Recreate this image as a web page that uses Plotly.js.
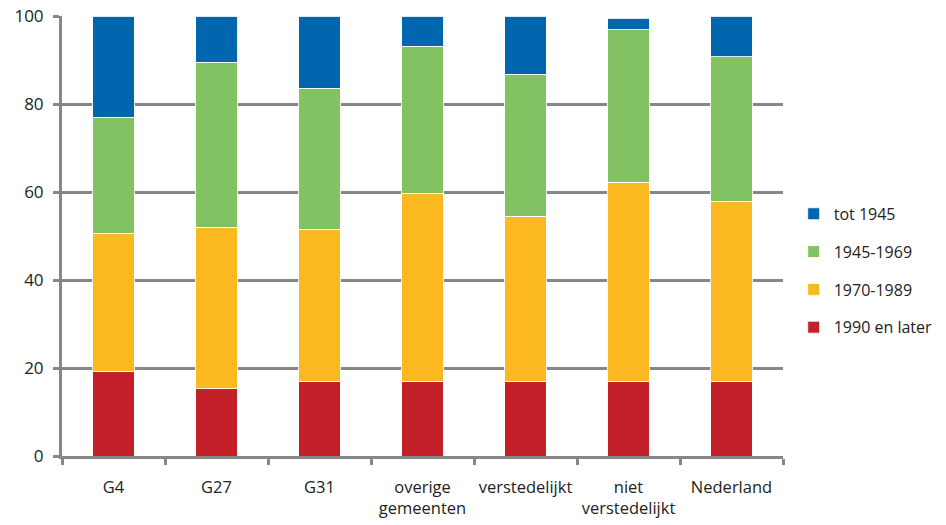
<!DOCTYPE html>
<html>
<head>
<meta charset="utf-8">
<script src="https://cdn.plot.ly/plotly-3.0.1.min.js"></script>
<style>html,body{margin:0;padding:0;background:#fff;}#chart{width:946px;height:525px;}</style>
</head>
<body>
<div id="chart"></div>
<script>
const categories = ["G4", "G27", "G31", "overige<br>gemeenten", "verstedelijkt", "niet<br>verstedelijkt", "Nederland"];
const seriesNames = ["1990 en later", "1970-1989", "1945-1969", "tot 1945"];
const red = [19.3, 15.3, 17.0, 17.0, 17.0, 17.0, 17.0];
const orange = [31.3, 36.7, 34.5, 42.7, 37.5, 45.2, 40.9];
const green = [26.4, 37.5, 32.1, 33.4, 32.3, 34.7, 32.8];
const blue = [23.0, 10.5, 16.4, 6.9, 13.2, 2.6, 9.3];
const colors = ["#C4202A", "#FBB821", "#82C262", "#0066AE"];
const values = [red, orange, green, blue];
const yTicks = [0, 20, 40, 60, 80, 100];

const traces = values.map((v, i) => ({
  type: "bar",
  name: seriesNames[i],
  x: categories,
  y: v,
  width: 0.4,
  legendgroup: "g" + i,
  legendrank: 10 - i,
  marker: {color: colors[i], line: {color: "rgba(255,255,255,0.85)", width: 1}},
  hoverinfo: "none"
}));

const layout = {
  width: 946, height: 525,
  barmode: "stack",
  margin: {l: 62, r: 163, t: 16, b: 69},
  paper_bgcolor: "#fff", plot_bgcolor: "#fff",
  font: {family: "Open Sans, sans-serif", size: 17, color: "#222"},
  showlegend: true,
  legend: {
    xref: "container", yref: "container",
    x: 0.839, xanchor: "left", y: 0.625, yanchor: "top",
    traceorder: "grouped", tracegroupgap: 14,
    font: {size: 16, color: "#222"},
    itemwidth: 30
  },
  xaxis: {
    type: "category",
    tickangle: 0,
    tickfont: {size: 16.5},
    showline: true, linecolor: "#878787", linewidth: 3,
    ticks: "outside", tickson: "boundaries", ticklen: 6, tickwidth: 3, tickcolor: "#878787",
    ticklabelstandoff: 14,
    showgrid: false, zeroline: false, fixedrange: true
  },
  yaxis: {
    range: [0, 100], tickvals: yTicks, ticktext: yTicks.map(String),
    showline: true, linecolor: "#878787", linewidth: 3,
    ticks: "outside", ticklen: 6, tickwidth: 3, tickcolor: "#878787",
    showgrid: true, gridcolor: "#878787", gridwidth: 3,
    zeroline: false, ticklabelstandoff: 6, fixedrange: true
  }
};

Plotly.newPlot("chart", traces, layout, {displayModeBar: false, staticPlot: true});
</script>
</body>
</html>
